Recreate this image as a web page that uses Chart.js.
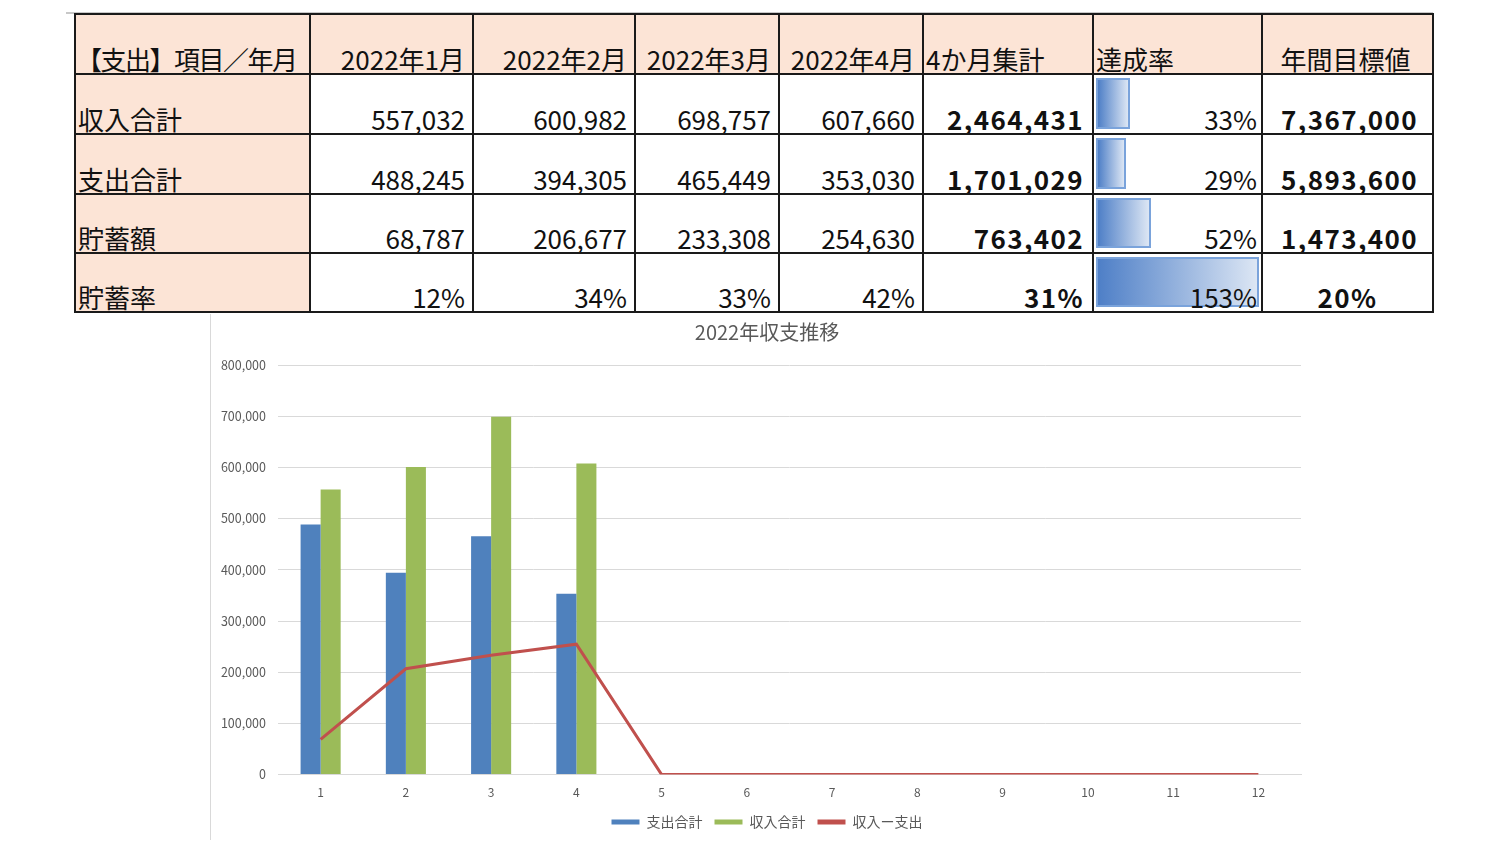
<!DOCTYPE html>
<html lang="ja">
<head>
<meta charset="utf-8">
<script src="https://cdn.jsdelivr.net/npm/chart.js@4.4.1/dist/chart.umd.min.js"></script>
<style>
  html, body { margin: 0; padding: 0; background: #fff; }
  body { width: 1500px; height: 843px; position: relative; overflow: hidden; font-family: "Noto Sans CJK JP", "Noto Sans", sans-serif; }
  #topline { position: absolute; left: 66px; top: 12px; width: 1367px; height: 0; border-top: 2px solid #c8c8c8; }
  table { position: absolute; left: 74px; top: 13px; width: 1358px; border-collapse: collapse; table-layout: fixed; font-size: 26px; color: #111; }
  td { border: 2px solid #1a1a1a; padding: 0 7px 1px 3px; vertical-align: bottom; white-space: nowrap; overflow: hidden; line-height: 1.05; position: relative; }
  td.hd { background: #FCE4D6; }
  td.lbl { background: #FCE4D6; text-align: left; padding-left: 2px; }
  td.num { text-align: right; }
  td.bold { font-weight: bold; letter-spacing: 1.4px; }
  td.graysep { border-left: 1px solid #a6a6a6; }
  .bar { position: absolute; left: 2px; top: 3px; bottom: 4px; border: 2px solid #7AA3DB; box-sizing: border-box; background: linear-gradient(to right, #4E7FC7, #DCE6F4); }
  .pct { position: relative; z-index: 1; }
  #chartBox { position: absolute; left: 210px; top: 314px; width: 1112px; height: 526px; border-left: 1px solid #d9d9d9; }
</style>
</head>
<body>
<div id="topline"></div>
<table id="tbl"></table>
<div id="chartBox"><canvas id="c"></canvas></div>
<script>
// ---- table data ----
const tableHeaders = ['【支出】項目／年月', '2022年1月', '2022年2月', '2022年3月', '2022年4月', '4か月集計', '達成率', '年間目標値'];
const rowLabels = ['収入合計', '支出合計', '貯蓄額', '貯蓄率'];
const incomeRow = [557032, 600982, 698757, 607660];
const expenseRow = [488245, 394305, 465449, 353030];
const savingsRow = [68787, 206677, 233308, 254630];
const savingsRateRow = [12, 34, 33, 42];
const fourMonthTotals = [2464431, 1701029, 763402, 31];
const achievementRates = [33, 29, 52, 153];
const annualTargets = [7367000, 5893600, 1473400, 20];

// ---- chart data ----
const monthLabels = ['1', '2', '3', '4', '5', '6', '7', '8', '9', '10', '11', '12'];
const expenseTotals = [488245, 394305, 465449, 353030];
const incomeTotals = [557032, 600982, 698757, 607660];
const incomeMinusExpense = [68787, 206677, 233308, 254630, 0, 0, 0, 0, 0, 0, 0, 0];
const yTicks = [0, 100000, 200000, 300000, 400000, 500000, 600000, 700000, 800000];

const colWidths = [235, 163, 162, 144, 144, 170, 169, 171];
const rowHeights = [60, 60, 60, 59, 59];

const fmt = n => n.toLocaleString('en-US');

(function buildTable() {
  const t = document.getElementById('tbl');
  const cg = document.createElement('colgroup');
  colWidths.forEach(w => { const c = document.createElement('col'); c.style.width = w + 'px'; cg.appendChild(c); });
  t.appendChild(cg);
  const hr = document.createElement('tr'); hr.style.height = rowHeights[0] + 'px';
  tableHeaders.forEach((h, i) => {
    const td = document.createElement('td'); td.className = 'hd'; td.textContent = h;
    if (i >= 1 && i <= 4) td.style.textAlign = 'right';
    if (i === 5 || i === 6) { td.style.textAlign = 'left'; td.style.paddingLeft = '2px'; }
    if (i === 7) td.style.textAlign = 'center';
    if (i === 0) { td.style.paddingLeft = '0px'; td.style.letterSpacing = '-1.5px'; }
    if (i === 5) td.classList.add('graysep');
    hr.appendChild(td);
  });
  t.appendChild(hr);
  const monthRows = [incomeRow, expenseRow, savingsRow, savingsRateRow];
  const minA = Math.min(...achievementRates), maxA = Math.max(...achievementRates);
  rowLabels.forEach((lab, r) => {
    const tr = document.createElement('tr'); tr.style.height = rowHeights[r + 1] + 'px';
    const l = document.createElement('td'); l.className = 'lbl'; l.textContent = lab; tr.appendChild(l);
    const isRate = r === 3;
    monthRows[r].forEach(v => {
      const td = document.createElement('td'); td.className = 'num';
      td.textContent = isRate ? v + '%' : fmt(v); tr.appendChild(td);
    });
    const tot = document.createElement('td'); tot.className = 'num bold graysep';
    tot.style.paddingRight = '8px';
    tot.textContent = isRate ? fourMonthTotals[r] + '%' : fmt(fourMonthTotals[r]); tr.appendChild(tot);
    const ach = document.createElement('td'); ach.className = 'num';
    ach.style.paddingRight = '4px';
    const bar = document.createElement('div'); bar.className = 'bar';
    const innerW = colWidths[6] - 6;
    const w = 30 + (achievementRates[r] - minA) / (maxA - minA) * (innerW - 30);
    bar.style.width = w + 'px';
    ach.appendChild(bar);
    const sp = document.createElement('span'); sp.className = 'pct'; sp.textContent = achievementRates[r] + '%';
    ach.appendChild(sp); tr.appendChild(ach);
    const tg = document.createElement('td'); tg.className = 'bold';
    tg.style.textAlign = isRate ? 'center' : 'right';
    tg.style.paddingRight = isRate ? '3px' : '14px';
    tg.textContent = isRate ? annualTargets[r] + '%' : fmt(annualTargets[r]); tr.appendChild(tg);
    t.appendChild(tr);
  });
})();

const gray = '#595959';
const ff = '"Noto Sans CJK JP", sans-serif';
new Chart(document.getElementById('c'), {
  type: 'bar',
  data: {
    labels: monthLabels,
    datasets: [
      { type: 'line', label: '収入ー支出', data: incomeMinusExpense, borderColor: '#C0504D', backgroundColor: '#C0504D', borderWidth: 3, pointRadius: 0, tension: 0, order: 0 },
      { label: '支出合計', data: expenseTotals, backgroundColor: '#4F81BD', categoryPercentage: 0.47, barPercentage: 1.0, order: 1 },
      { label: '収入合計', data: incomeTotals, backgroundColor: '#9BBB59', categoryPercentage: 0.47, barPercentage: 1.0, order: 2 }
    ]
  },
  options: {
    responsive: true,
    maintainAspectRatio: false,
    animation: false,
    layout: { padding: { top: 6, right: 0, left: 0, bottom: 1 } },
    plugins: {
      title: { display: true, text: '2022年収支推移', color: gray, font: { size: 20, family: ff, weight: 'normal' }, padding: { top: 0, bottom: 21 } },
      legend: {
        position: 'bottom',
        labels: {
          color: gray, font: { size: 14, family: ff }, boxWidth: 28, boxHeight: 5, padding: 12,
          generateLabels: (chart) => {
            const order = [1, 2, 0];
            return order.map(i => {
              const ds = chart.data.datasets[i];
              return { text: ds.label, fillStyle: ds.type === 'line' ? ds.borderColor : ds.backgroundColor, strokeStyle: 'transparent', lineWidth: 0, fontColor: gray, datasetIndex: i, hidden: false };
            });
          }
        }
      },
      tooltip: { enabled: false }
    },
    scales: {
      x: {
        grid: { display: false },
        border: { display: true, color: '#d9d9d9', width: 1 },
        ticks: { color: gray, font: { size: 12, family: ff }, padding: 3 }
      },
      y: {
        min: 0, max: 800000,
        afterFit: s => { s.width = 67; },
        afterBuildTicks: s => { s.ticks = yTicks.map(v => ({ value: v })); },
        grid: { color: '#d9d9d9', drawTicks: false },
        border: { display: false },
        ticks: { color: gray, font: { size: 12.5, family: ff }, padding: 12, callback: v => fmt(v) }
      },
      yR: {
        position: 'right',
        min: 0, max: 800000,
        afterFit: s => { s.width = 22; },
        grid: { display: false, drawTicks: false },
        border: { display: false },
        ticks: { display: false }
      }
    }
  }
});
</script>
</body>
</html>
